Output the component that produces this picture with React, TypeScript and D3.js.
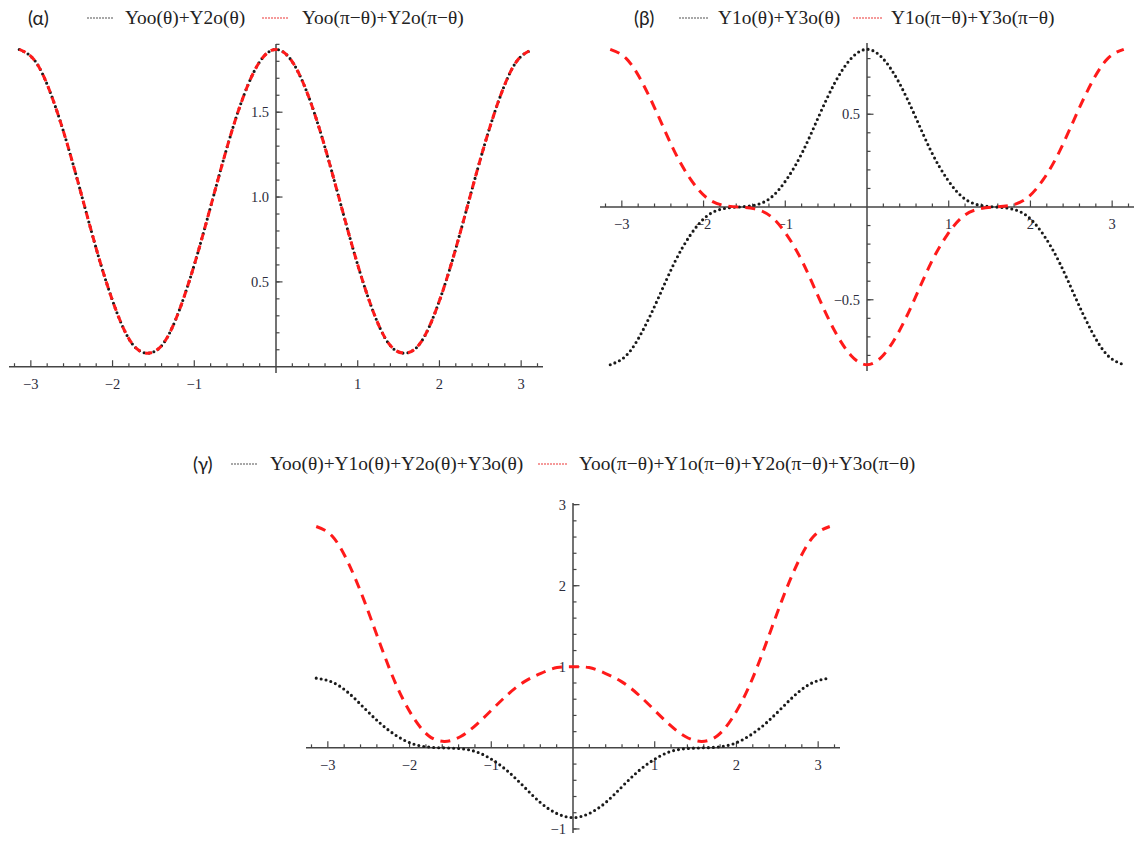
import React from 'react';
import * as d3 from 'd3';

// Sample angles, θ from −π to π in steps of π/16
const theta = [
  -3.142, -2.945, -2.749, -2.553, -2.356, -2.16, -1.963, -1.767, -1.571, -1.374, -1.178,
  -0.982, -0.785, -0.589, -0.393, -0.196, 0, 0.196, 0.393, 0.589, 0.785, 0.982, 1.178,
  1.374, 1.571, 1.767, 1.963, 2.16, 2.356, 2.553, 2.749, 2.945, 3.142,
];

// (α) Yoo + Y2o
const alphaBlack = [
  1.87, 1.8, 1.6, 1.31, 0.97, 0.63, 0.34, 0.14, 0.08, 0.14, 0.34, 0.63, 0.97, 1.31, 1.6, 1.8,
  1.87, 1.8, 1.6, 1.31, 0.97, 0.63, 0.34, 0.14, 0.08, 0.14, 0.34, 0.63, 0.97, 1.31, 1.6, 1.8, 1.87,
];
const alphaRed = [
  1.87, 1.8, 1.6, 1.31, 0.97, 0.63, 0.34, 0.14, 0.08, 0.14, 0.34, 0.63, 0.97, 1.31, 1.6, 1.8,
  1.87, 1.8, 1.6, 1.31, 0.97, 0.63, 0.34, 0.14, 0.08, 0.14, 0.34, 0.63, 0.97, 1.31, 1.6, 1.8, 1.87,
];

// (β) Y1o + Y3o
const betaBlack = [
  -0.85, -0.8, -0.67, -0.49, -0.3, -0.15, -0.05, -0.01, 0, 0.01, 0.05, 0.15, 0.3, 0.49, 0.67, 0.8,
  0.85, 0.8, 0.67, 0.49, 0.3, 0.15, 0.05, 0.01, 0, -0.01, -0.05, -0.15, -0.3, -0.49, -0.67, -0.8, -0.85,
];
const betaRed = [
  0.85, 0.8, 0.67, 0.49, 0.3, 0.15, 0.05, 0.01, 0, -0.01, -0.05, -0.15, -0.3, -0.49, -0.67, -0.8,
  -0.85, -0.8, -0.67, -0.49, -0.3, -0.15, -0.05, -0.01, 0, 0.01, 0.05, 0.15, 0.3, 0.49, 0.67, 0.8, 0.85,
];

// (γ) Yoo + Y1o + Y2o + Y3o
const gammaBlack = [
  0.86, 0.81, 0.68, 0.49, 0.3, 0.15, 0.05, 0.01, 0, -0.01, -0.05, -0.15, -0.3, -0.49, -0.68, -0.81,
  -0.86, -0.81, -0.68, -0.49, -0.3, -0.15, -0.05, -0.01, 0, 0.01, 0.05, 0.15, 0.3, 0.49, 0.68, 0.81, 0.86,
];
const gammaRed = [
  2.73, 2.61, 2.28, 1.81, 1.27, 0.77, 0.39, 0.15, 0.08, 0.14, 0.29, 0.48, 0.67, 0.82, 0.92, 0.99,
  1.0, 0.99, 0.92, 0.82, 0.67, 0.48, 0.29, 0.14, 0.08, 0.15, 0.39, 0.77, 1.27, 1.81, 2.28, 2.61, 2.73,
];

// Axis tick values and labels
const xTickValues = [-3, -2, -1, 1, 2, 3];
const xTickLabels = ['\u22123', '\u22122', '\u22121', '1', '2', '3'];
const alphaYTicks = [0.5, 1.0, 1.5];
const alphaYLabels = ['0.5', '1.0', '1.5'];
const betaYTicks = [-0.5, 0.5];
const betaYLabels = ['\u22120.5', '0.5'];
const gammaYTicks = [-1, 1, 2, 3];
const gammaYLabels = ['\u22121', '1', '2', '3'];

const alphaLegend = ['Yoo(\u03b8)+Y2o(\u03b8)', 'Yoo(\u03c0\u2212\u03b8)+Y2o(\u03c0\u2212\u03b8)'];
const betaLegend = ['Y1o(\u03b8)+Y3o(\u03b8)', 'Y1o(\u03c0\u2212\u03b8)+Y3o(\u03c0\u2212\u03b8)'];
const gammaLegend = [
  'Yoo(\u03b8)+Y1o(\u03b8)+Y2o(\u03b8)+Y3o(\u03b8)',
  'Yoo(\u03c0\u2212\u03b8)+Y1o(\u03c0\u2212\u03b8)+Y2o(\u03c0\u2212\u03b8)+Y3o(\u03c0\u2212\u03b8)',
];

const SERIF = "'Liberation Serif', 'DejaVu Serif', serif";
const SANS = "Lato, 'Open Sans', 'Noto Sans', sans-serif";
const AXIS = '#454545';
const BLACK = '#1a1a1a';
const RED = '#ff1a1a';
const LABEL = '#2c2c3c';
const XPAD = Math.PI * 1.04;

type PanelProps = {
  xRange: [number, number];
  yDomain: [number, number];
  yRange: [number, number];
  black: number[];
  red: number[];
  yTicks: number[];
  yLabels: string[];
  yMinor: number[];
  redDash: string;
  letter: string;
  legend: string[];
  legendY: number;
  lx: { letter: number; s1: [number, number]; t1: number; s2: [number, number]; t2: number };
};

function Panel(p: PanelProps) {
  const x = d3.scaleLinear().domain([-XPAD, XPAD]).range(p.xRange);
  const y = d3.scaleLinear().domain(p.yDomain).range(p.yRange);
  const x0 = x(0);
  const y0 = y(0);
  const line = d3
    .line<number>()
    .x((_, i) => x(theta[i]))
    .y((d) => y(d))
    .curve(d3.curveNatural);

  const xMinor = d3
    .range(-16, 17)
    .filter((k) => k % 5 !== 0)
    .map((k) => k * 0.2);

  return (
    <g>
      {/* axes */}
      <line x1={p.xRange[0]} x2={p.xRange[1]} y1={y0} y2={y0} stroke={AXIS} strokeWidth={1.5} />
      <line x1={x0} x2={x0} y1={p.yRange[0]} y2={p.yRange[1]} stroke={AXIS} strokeWidth={1.5} />
      {xMinor.map((t) => (
        <line key={'xm' + t} x1={x(t)} x2={x(t)} y1={y0} y2={y0 - 3.5} stroke={AXIS} strokeWidth={1.2} />
      ))}
      {xTickValues.map((t, i) => (
        <g key={'xM' + t}>
          <line x1={x(t)} x2={x(t)} y1={y0} y2={y0 - 6.5} stroke={AXIS} strokeWidth={1.2} />
          <text x={x(t)} y={y0 + 22} textAnchor="middle" fontFamily={SERIF} fontSize={14.5} fill={LABEL}>
            {xTickLabels[i]}
          </text>
        </g>
      ))}
      {p.yMinor.map((t) => (
        <line key={'ym' + t} x1={x0} x2={x0 + 3.5} y1={y(t)} y2={y(t)} stroke={AXIS} strokeWidth={1.2} />
      ))}
      {p.yTicks.map((t, i) => (
        <g key={'yM' + t}>
          <line x1={x0} x2={x0 + 6.5} y1={y(t)} y2={y(t)} stroke={AXIS} strokeWidth={1.2} />
          <text x={x0 - 7} y={y(t) + 5} textAnchor="end" fontFamily={SERIF} fontSize={14.5} fill={LABEL}>
            {p.yLabels[i]}
          </text>
        </g>
      ))}

      {/* curves */}
      <path
        d={line(p.black) || ''}
        fill="none"
        stroke={BLACK}
        strokeWidth={3.1}
        strokeDasharray="0 5"
        strokeLinecap="round"
      />
      <path
        d={line(p.red) || ''}
        fill="none"
        stroke={RED}
        strokeWidth={3}
        strokeDasharray={p.redDash}
        strokeLinecap="butt"
      />

      {/* legend */}
      <text x={p.lx.letter} y={p.legendY + 7} fontFamily={SANS} fontSize={19} fill="#222">
        {p.letter}
      </text>
      <line
        x1={p.lx.s1[0]}
        x2={p.lx.s1[1]}
        y1={p.legendY}
        y2={p.legendY}
        stroke="#a8a8a8"
        strokeWidth={1.8}
        strokeDasharray="2 1"
      />
      <text x={p.lx.t1} y={p.legendY + 6} fontFamily={SERIF} fontSize={19.4} fill="#222">
        {p.legend[0]}
      </text>
      <line
        x1={p.lx.s2[0]}
        x2={p.lx.s2[1]}
        y1={p.legendY}
        y2={p.legendY}
        stroke="#f59a9a"
        strokeWidth={1.8}
        strokeDasharray="2 1"
      />
      <text x={p.lx.t2} y={p.legendY + 6} fontFamily={SERIF} fontSize={19.4} fill="#222">
        {p.legend[1]}
      </text>
    </g>
  );
}

export default function App() {
  const alphaMinor = d3.range(1, 20).map((k) => k / 10);
  const betaMinor = d3
    .range(-8, 9)
    .filter((k) => k !== 0)
    .map((k) => k / 10);
  const gammaMinor = d3
    .range(-5, 16)
    .filter((k) => k !== 0)
    .map((k) => k / 5);

  return (
    <svg
      width={1134}
      height={841}
      viewBox="0 0 1134 841"
      style={{ position: 'absolute', left: 0, top: 0, background: '#fff' }}
    >
      <rect width={1134} height={841} fill="#fff" />
      <Panel
        xRange={[9, 543]}
        yDomain={[-0.037, 1.902]}
        yRange={[373, 44]}
        black={alphaBlack}
        red={alphaRed}
        yTicks={alphaYTicks}
        yLabels={alphaYLabels}
        yMinor={alphaMinor}
        redDash="7 5"
        letter="(α)"
        legend={alphaLegend}
        legendY={18}
        lx={{ letter: 28, s1: [87, 113], t1: 125, s2: [262, 289], t2: 302 }}
      />
      <Panel
        xRange={[600, 1134]}
        yDomain={[-0.884, 0.884]}
        yRange={[371, 43]}
        black={betaBlack}
        red={betaRed}
        yTicks={betaYTicks}
        yLabels={betaYLabels}
        yMinor={betaMinor}
        redDash="10 7"
        letter="(β)"
        legend={betaLegend}
        legendY={18}
        lx={{ letter: 634, s1: [679, 708], t1: 718, s2: [853, 882], t2: 891 }}
      />
      <Panel
        xRange={[306, 840]}
        yDomain={[-1.05, 3.02]}
        yRange={[833, 503]}
        black={gammaBlack}
        red={gammaRed}
        yTicks={gammaYTicks}
        yLabels={gammaYLabels}
        yMinor={gammaMinor}
        redDash="10 7"
        letter="(γ)"
        legend={gammaLegend}
        legendY={464}
        lx={{ letter: 193, s1: [231, 258], t1: 270, s2: [538, 567], t2: 579 }}
      />
    </svg>
  );
}
